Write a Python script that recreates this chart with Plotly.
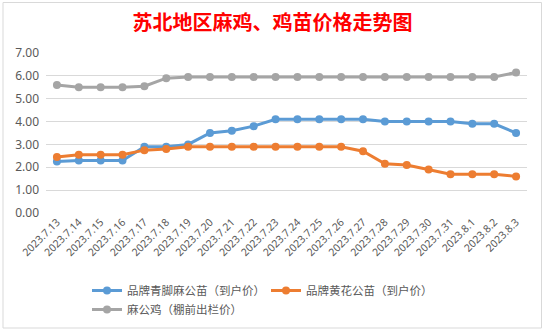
import plotly.graph_objects as go

dates = ["2023.7.13", "2023.7.14", "2023.7.15", "2023.7.16", "2023.7.17", "2023.7.18",
         "2023.7.19", "2023.7.20", "2023.7.21", "2023.7.22", "2023.7.23", "2023.7.24",
         "2023.7.25", "2023.7.26", "2023.7.27", "2023.7.28", "2023.7.29", "2023.7.30",
         "2023.7.31", "2023.8.1", "2023.8.2", "2023.8.3"]

blue_name = "品牌青脚麻公苗（到户价）"
blue_vals = [2.25, 2.3, 2.3, 2.3, 2.9, 2.9, 3.0, 3.5, 3.6, 3.8, 4.1, 4.1,
             4.1, 4.1, 4.1, 4.0, 4.0, 4.0, 4.0, 3.9, 3.9, 3.5]

orange_name = "品牌黄花公苗（到户价）"
orange_vals = [2.45, 2.55, 2.55, 2.55, 2.75, 2.8, 2.9, 2.9, 2.9, 2.9, 2.9, 2.9,
               2.9, 2.9, 2.7, 2.15, 2.1, 1.9, 1.7, 1.7, 1.7, 1.6]

gray_name = "麻公鸡（棚前出栏价）"
gray_vals = [5.6, 5.5, 5.5, 5.5, 5.55, 5.9, 5.95, 5.95, 5.95, 5.95, 5.95, 5.95,
             5.95, 5.95, 5.95, 5.95, 5.95, 5.95, 5.95, 5.95, 5.95, 6.15]

y_ticks = [0, 1, 2, 3, 4, 5, 6, 7]
y_labels = ["0.00", "1.00", "2.00", "3.00", "4.00", "5.00", "6.00", "7.00"]

title_text = "苏北地区麻鸡、鸡苗价格走势图"

W, H = 545, 331
ML, MR, MT, MB = 46, 18, 53, 118

fig = go.Figure()
for name, vals, col in [(blue_name, blue_vals, "#5B9BD5"),
                        (orange_name, orange_vals, "#ED7D31"),
                        (gray_name, gray_vals, "#A5A5A5")]:
    fig.add_trace(go.Scatter(
        x=list(range(len(dates))), y=vals, name=name, mode="lines+markers",
        line=dict(color=col, width=3),
        marker=dict(color=col, size=8, symbol="circle"),
    ))

pw = W - ML - MR
ph = H - MT - MB
def px_x(p):
    return (p - ML) / pw
def px_y(p):
    return (H - MB - p) / ph

fig.add_shape(type="rect", xref="paper", yref="paper",
              x0=px_x(3), x1=px_x(541.5), y0=px_y(328), y1=px_y(2.5),
              line=dict(color="#D9D9D9", width=1), fillcolor="rgba(0,0,0,0)", layer="below")

fig.update_layout(
    width=W, height=H,
    margin=dict(l=ML, r=MR, t=MT, b=MB, pad=0, autoexpand=False),
    paper_bgcolor="white", plot_bgcolor="white",
    title=dict(text="<b>" + title_text + "</b>", x=0.5, xref="container", xanchor="center",
               y=1 - 23 / H, yanchor="middle", yref="container",
               font=dict(family="Noto Sans CJK SC", size=20, color="#FF0000")),
    xaxis=dict(
        range=[-0.5, len(dates) - 0.5], tickmode="array",
        tickvals=list(range(len(dates))), ticktext=dates, tickangle=-45,
        showgrid=False, zeroline=False, showline=False, ticks="", automargin=False,
        tickfont=dict(family="Noto Sans, Noto Sans CJK SC", size=10.5, color="#595959"),
    ),
    yaxis=dict(
        range=[0, 7], tickmode="array", tickvals=y_ticks, ticktext=y_labels,
        showgrid=True, gridcolor="#D9D9D9", gridwidth=1, zeroline=False, showline=False,
        ticks="", ticklabelstandoff=6, automargin=False,
        tickfont=dict(family="Noto Sans, Noto Sans CJK SC", size=12, color="#595959"),
    ),
    legend=dict(
        orientation="h", x=px_x(87), xanchor="left", y=px_y(276), yanchor="top",
        font=dict(family="Noto Sans CJK SC", size=11.5, color="#595959"),
        entrywidth=134, entrywidthmode="pixels",
        tracegroupgap=0, itemwidth=30, bgcolor="rgba(0,0,0,0)",
    ),
    showlegend=True,
)

fig.write_html("out.html")
